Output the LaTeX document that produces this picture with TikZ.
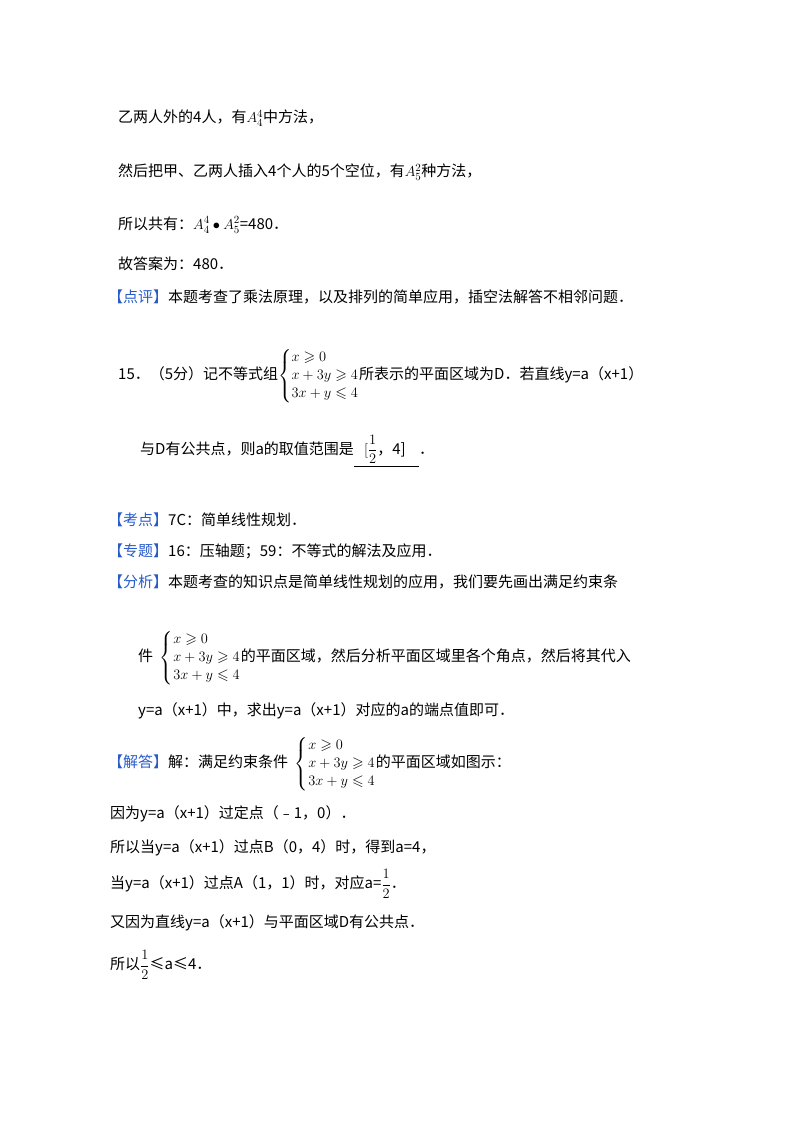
\documentclass[tikz,border=0pt]{standalone}
\usepackage{amsmath,amssymb}
\usepackage{fontspec}
\setmainfont{Noto Sans CJK SC}
\definecolor{tagblue}{RGB}{40,90,200}
\newcommand{\tg}[1]{\textcolor{tagblue}{【#1】}}
\newcommand{\sysA}{$\left\{\begin{array}{@{}l@{}}x\geqslant 0\\ x+3y\geqslant 4\\ 3x+y\leqslant 4\end{array}\right.$}
\begin{document}
\begin{tikzpicture}[x=1pt,y=-1pt,txt/.style={anchor=west,inner sep=0pt,font=\fontsize{15}{18}\selectfont}]
\useasboundingbox (0,0) rectangle (800,1132);
\node[txt] (l1) at (118,118) {乙两人外的4人，有$A_4^4$中方法，};
\node[txt] (l2) at (118,172) {然后把甲、乙两人插入4个人的5个空位，有$A_5^2$种方法，};
\node[txt] (l3) at (118,225) {所以共有：$A_4^4\bullet A_5^2$=480．};
\node[txt] (l4) at (118,264) {故答案为：480．};
\node[txt] (l5) at (108,297) {\tg{点评}本题考查了乘法原理，以及排列的简单应用，插空法解答不相邻问题．};
\node[txt] (l6) at (118,376) {15．（5分）记不等式组\sysA 所表示的平面区域为D．若直线y=a（x+1）};
\node[txt] (l7) at (140,451) {与D有公共点，则a的取值范围是\underline{\ \ \ $[\dfrac{1}{2}$，4]\ \ \ \ }．};
\node[txt] (l8) at (108,520) {\tg{考点}7C：简单线性规划．};
\node[txt] (l9) at (108,551) {\tg{专题}16：压轴题；59：不等式的解法及应用．};
\node[txt] (l10) at (108,582) {\tg{分析}本题考查的知识点是简单线性规划的应用，我们要先画出满足约束条};
\node[txt] (l11) at (138,658) {件\ \ \sysA 的平面区域，然后分析平面区域里各个角点，然后将其代入};
\node[txt] (l12) at (138,711) {y=a（x+1）中，求出y=a（x+1）对应的a的端点值即可．};
\node[txt] (l13) at (108,764) {\tg{解答}解：满足约束条件\ \ \sysA 的平面区域如图示：};
\node[txt] (l14) at (110,814) {因为y=a（x+1）过定点（﹣1，0）．};
\node[txt] (l15) at (110,848) {所以当y=a（x+1）过点B（0，4）时，得到a=4，};
\node[txt] (l16) at (110,884) {当y=a（x+1）过点A（1，1）时，对应a=$\dfrac{1}{2}$．};
\node[txt] (l17) at (110,923) {又因为直线y=a（x+1）与平面区域D有公共点．};
\node[txt] (l18) at (110,965) {所以$\dfrac{1}{2}$≤a≤4．};
\end{tikzpicture}
\end{document}
